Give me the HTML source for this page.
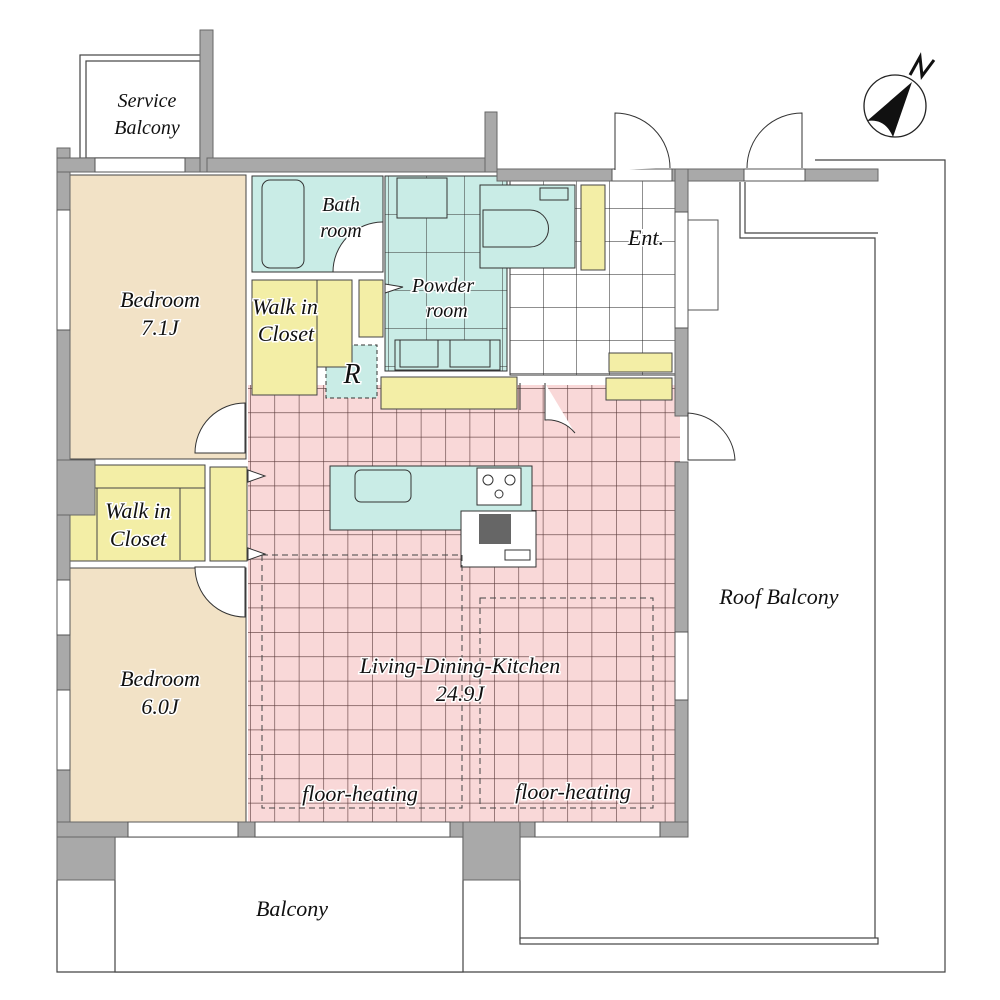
<!DOCTYPE html>
<html><head><meta charset="utf-8"><style>
html,body{margin:0;padding:0;background:#fff;}
svg{display:block;}
text{font-family:"Liberation Serif",serif;font-style:italic;fill:#111;stroke:#fff;stroke-width:3;paint-order:stroke;}
</style></head><body>
<svg width="1000" height="1000" viewBox="0 0 1000 1000" xmlns="http://www.w3.org/2000/svg">
<defs>
<pattern id="pg" width="24.4" height="24.4" patternUnits="userSpaceOnUse" x="250" y="388">
<rect width="24.4" height="24.4" fill="#f9d8d8"/><path d="M0 0H24.4M0 0V24.4" stroke="#5a3a3a" stroke-width="1.2"/></pattern>
<pattern id="wg" width="33" height="33" patternUnits="userSpaceOnUse" x="510" y="175">
<rect width="33" height="33" fill="#fff"/><path d="M0 0H33M0 0V33" stroke="#222" stroke-width="1"/></pattern>
<pattern id="mg" width="38" height="38" patternUnits="userSpaceOnUse" x="388" y="176">
<rect width="38" height="38" fill="#c9ece6"/><path d="M0 0H38M0 0V38" stroke="#333" stroke-width="1"/></pattern>
</defs>
<g fill="none" stroke="#444" stroke-width="1.2">
<path d="M57 880V972H945V160H815"/>
<path d="M740 182V238H875V940H520V837"/>
<path d="M745 182V233H878"/>
<rect x="520" y="938" width="358" height="6" fill="#fff"/>
<rect x="115" y="837" width="348" height="135" fill="#fff"/>
<rect x="80" y="55" width="125" height="103"/><rect x="86" y="61" width="114" height="97"/>
</g>
<rect x="70" y="175" width="176" height="284" fill="#f2e2c6" stroke="#444"/>
<rect x="70" y="568" width="176" height="258" fill="#f2e2c6" stroke="#444"/>
<rect x="248" y="385" width="432" height="440" fill="url(#pg)"/>
<rect x="510" y="175" width="165" height="200" fill="url(#wg)" stroke="#333"/>
<rect x="385" y="176" width="122" height="195" fill="url(#mg)" stroke="#333"/>
<rect x="252" y="176" width="131" height="96" fill="#c9ece6" stroke="#333"/>
<rect x="262" y="180" width="42" height="88" rx="8" fill="#c9ece6" stroke="#333"/>
<path d="M333 272A50 50 0 0 1 383 222V272Z" fill="#fff" stroke="#333"/>
<rect x="480" y="185" width="95" height="83" fill="#c9ece6" stroke="#333"/>
<rect x="540" y="188" width="28" height="12" fill="none" stroke="#333"/>
<path d="M483 210H530A18 18 0 0 1 530 247H483Z" fill="#c9ece6" stroke="#333"/>
<rect x="397" y="178" width="50" height="40" fill="#c9ece6" stroke="#333"/>
<rect x="395" y="340" width="105" height="30" fill="#c9ece6" stroke="#333"/>
<path d="M400 340V367H438V340M450 340V367H490V340" fill="none" stroke="#333"/>
<rect x="326" y="345" width="51" height="53" fill="#c9ece6" stroke="#333" stroke-dasharray="4 3"/>
<g fill="#f3eea6" stroke="#444">
<rect x="252" y="280" width="100" height="87"/>
<rect x="359" y="280" width="24" height="57"/>
<rect x="252" y="280" width="65" height="115"/>
<rect x="381" y="377" width="136" height="32"/>
<rect x="581" y="185" width="24" height="85"/>
<rect x="609" y="353" width="63" height="19"/>
<rect x="606" y="378" width="66" height="22"/>
<rect x="70" y="465" width="135" height="96"/>
<rect x="210" y="467" width="37" height="94"/>
</g>
<path d="M97 488V560M180 488V560M97 488H205M70 488H97" stroke="#444" fill="none"/>
<rect x="330" y="466" width="202" height="64" fill="#c9ece6" stroke="#333"/>
<rect x="355" y="470" width="56" height="32" rx="6" fill="#c9ece6" stroke="#333"/>
<rect x="477" y="468" width="44" height="37" fill="#fff" stroke="#333"/>
<circle cx="488" cy="480" r="5" fill="none" stroke="#333"/><circle cx="510" cy="480" r="5" fill="none" stroke="#333"/><circle cx="499" cy="494" r="4" fill="none" stroke="#333"/>
<rect x="461" y="511" width="75" height="56" fill="#fff" stroke="#333"/>
<rect x="479" y="514" width="32" height="30" fill="#666"/>
<rect x="505" y="550" width="25" height="10" fill="none" stroke="#333"/>
<g fill="none" stroke="#444" stroke-dasharray="6 4">
<rect x="262" y="555" width="200" height="253"/>
<rect x="480" y="598" width="173" height="210"/>
</g>
<g fill="#a9a9a9" stroke="#666">
<rect x="57" y="148" width="13" height="732"/>
<rect x="57" y="460" width="38" height="55"/>
<rect x="57" y="158" width="150" height="14"/>
<rect x="200" y="30" width="13" height="142"/>
<rect x="207" y="158" width="290" height="14"/>
<rect x="485" y="112" width="12" height="60"/>
<rect x="497" y="169" width="115" height="12"/>
<rect x="672" y="169" width="72" height="12"/>
<rect x="805" y="169" width="73" height="12"/>
<rect x="675" y="169" width="13" height="43"/>
<rect x="675" y="328" width="13" height="88"/>
<rect x="675" y="462" width="13" height="170"/>
<rect x="675" y="700" width="13" height="133"/>
<rect x="57" y="822" width="631" height="15"/>
<rect x="57" y="837" width="58" height="43"/>
<rect x="463" y="822" width="57" height="58"/>
</g>
<g fill="#fff" stroke="#555">
<rect x="95" y="158" width="90" height="14"/>
<rect x="57" y="210" width="13" height="120"/>
<rect x="57" y="580" width="13" height="55"/>
<rect x="57" y="690" width="13" height="80"/>
<rect x="128" y="822" width="110" height="15"/>
<rect x="255" y="822" width="195" height="15"/>
<rect x="535" y="822" width="125" height="15"/>
<rect x="675" y="212" width="13" height="116"/>
<rect x="675" y="632" width="13" height="68"/>
<rect x="612" y="169" width="60" height="12"/>
<rect x="744" y="169" width="61" height="12"/>
</g>
<rect x="688" y="220" width="30" height="90" fill="none" stroke="#555"/>
<g fill="#fff" stroke="#333">
<path d="M615 170V113A55 55 0 0 1 670 168"/>
<path d="M802 168V113A55 55 0 0 0 747 168"/>
<path d="M245 403A50 50 0 0 0 195 453H245Z"/>
<path d="M245 617A50 50 0 0 1 195 567H245Z"/>
<path d="M688 413A50 50 0 0 1 735 460H688Z" />
<path d="M545 383V420A35 35 0 0 1 575 433"/>
<path d="M520 383V410"/>
</g>
<polygon points="248,470 265,476 248,482" fill="#fff" stroke="#333"/>
<polygon points="248,548 265,554 248,560" fill="#fff" stroke="#333"/>
<polygon points="385,284 403,287 385,293" fill="#fff" stroke="#333"/>
<circle cx="895" cy="106" r="31" fill="#fff" stroke="#222" stroke-width="1.3"/>
<path d="M912 82L867 121Q885 118 893 137Z" fill="#111"/>
<path d="M910 75L920 57L922 76L934 60" fill="none" stroke="#111" stroke-width="3"/>
<g font-size="22" text-anchor="middle">
<text x="147" y="107" font-size="20">Service</text><text x="147" y="134" font-size="20">Balcony</text>
<text x="160" y="307">Bedroom</text><text x="160" y="335">7.1J</text>
<text x="285" y="314">Walk in</text><text x="286" y="341">Closet</text>
<text x="341" y="211" font-size="20">Bath</text><text x="341" y="237" font-size="20">room</text>
<text x="443" y="292" font-size="20">Powder</text><text x="447" y="317" font-size="20">room</text>
<text x="646" y="245">Ent.</text>
<text x="352" y="383" font-size="28">R</text>
<text x="138" y="518">Walk in</text><text x="138" y="546">Closet</text>
<text x="160" y="686">Bedroom</text><text x="160" y="714">6.0J</text>
<text x="460" y="673">Living-Dining-Kitchen</text><text x="460" y="701">24.9J</text>
<text x="360" y="801">floor-heating</text><text x="573" y="799">floor-heating</text>
<text x="779" y="604">Roof Balcony</text>
<text x="292" y="916">Balcony</text>
</g>
</svg>
</body></html>
